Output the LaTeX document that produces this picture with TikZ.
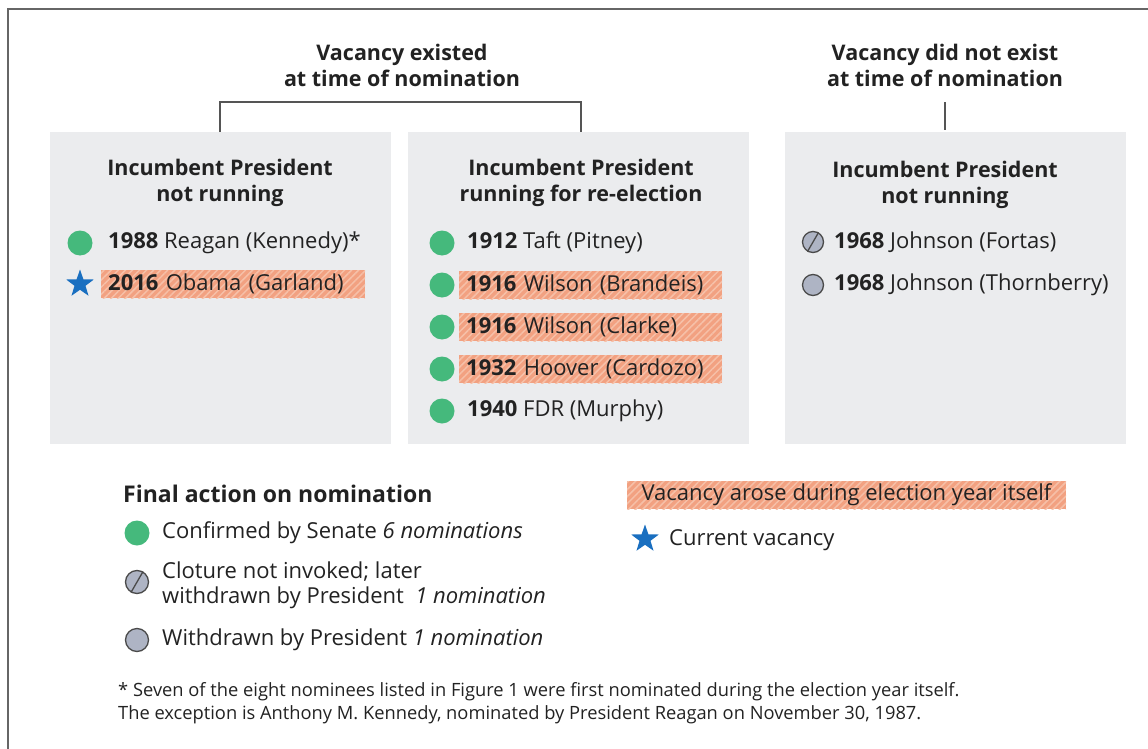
\documentclass[tikz,border=0pt]{standalone}
\usepackage{fontspec}
\setmainfont{Open Sans}
\usetikzlibrary{shapes.geometric,patterns.meta}
\definecolor{boxgray}{HTML}{EBECEE}
\definecolor{grn}{HTML}{45B97C}
\definecolor{strblue}{HTML}{1A6FC0}
\definecolor{salmon}{HTML}{F2A181}
\definecolor{salmonlt}{HTML}{F6C0A8}
\definecolor{iconfill}{HTML}{AEB4C4}
\definecolor{iconline}{HTML}{4A4A4A}
\definecolor{txt}{HTML}{222222}
\definecolor{framecol}{HTML}{666666}
\definecolor{linecol}{HTML}{555555}
\tikzset{
  panel/.style={fill=boxgray, minimum width=341pt, minimum height=312pt, inner sep=0pt},
  head/.style={font=\fontsize{21.5}{26}\selectfont\bfseries, align=center, text=txt, inner sep=0pt},
  rowtext/.style={font=\fontsize{22}{25}\selectfont, anchor=west, text=txt, inner sep=0pt},
  hlrow/.style={rowtext, fill=salmon, postaction={pattern={Lines[angle=45,distance=5pt,line width=1.5pt]}, pattern color=salmonlt},
     inner xsep=7pt, inner ysep=0pt, minimum height=28pt, align=left},
  ok/.style={circle, fill=grn, minimum size=25pt, inner sep=0pt},
  wd/.style={circle, fill=iconfill, draw=iconline, line width=1.3pt, minimum size=21pt, inner sep=0pt},
  slash/.style={iconline, line width=1.3pt},
  curstar/.style={star, star points=5, star point ratio=2.5, fill=strblue, minimum size=29pt, inner sep=0pt},
  conn/.style={linecol, line width=1.3pt},
  foot/.style={font=\fontsize{18.3}{23}\selectfont, anchor=west, text=txt, inner sep=0pt, align=left}
}
\begin{document}
\begin{tikzpicture}[x=1pt,y=-1pt]
\useasboundingbox (0,0) rectangle (1148,749);
\draw[framecol, line width=2pt] (8,749) -- (8,9) -- (1148,9);

% headings
\node[head] (h1) at (402,65) {Vacancy existed\\at time of nomination};
\node[head] (h2) at (945,65) {Vacancy did not exist\\at time of nomination};

% panels
\node[panel] (p1) at (220.5,288) {};
\node[panel] (p2) at (578.5,288) {};
\node[panel] (p3) at (955.5,288) {};

\coordinate (b1) at (220,132);
\coordinate (b2) at (581,132);
\coordinate (b3) at (945,130);
\coordinate (h2b) at (945,102);
\draw[conn] (b1) -- ++(0,-30) -| (b2);
\draw[conn] (b3) -- (h2b);

% panel titles
\node[head] (t1) at (220,183) {Incumbent President\\not running};
\node[head] (t2) at (581,183) {Incumbent President\\running for re-election};
\node[head] (t3) at (945,185) {Incumbent President\\not running};

% panel 1 rows
\node[ok] (i11) at (80,243) {};
\node[rowtext] (r11) at (108,243) {\textbf{1988} Reagan (Kennedy)*};
\node[curstar] (i12) at (80,284) {};
\node[hlrow, text width=250pt] (r12) at (101,284) {\textbf{2016} Obama (Garland)};

% panel 2 rows
\node[ok] (i21) at (442,243) {};
\node[rowtext] (r21) at (467,243) {\textbf{1912} Taft (Pitney)};
\node[ok] (i22) at (442,285) {};
\node[hlrow, text width=249pt] (r22) at (459,285) {\textbf{1916} Wilson (Brandeis)};
\node[ok] (i23) at (442,327) {};
\node[hlrow, text width=249pt] (r23) at (459,327) {\textbf{1916} Wilson (Clarke)};
\node[ok] (i24) at (442,369) {};
\node[hlrow, text width=249pt] (r24) at (459,369) {\textbf{1932} Hoover (Cardozo)};
\node[ok] (i25) at (442,411) {};
\node[rowtext] (r25) at (467,411) {\textbf{1940} FDR (Murphy)};

% panel 3 rows
\node[wd] (i31) at (813,242) {};
\draw[slash] (i31.240) -- (i31.60);
\node[rowtext] (r31) at (834,242) {\textbf{1968} Johnson (Fortas)};
\node[wd] (i32) at (813,285) {};
\node[rowtext] (r32) at (834,285) {\textbf{1968} Johnson (Thornberry)};

% legend left
\node[rowtext, font=\fontsize{23}{26}\selectfont\bfseries] (lt) at (123,494) {Final action on nomination};
\node[ok] (l1) at (137,533) {};
\node[rowtext] (lt1) at (162,533) {Confirmed by Senate \textit{6 nominations}};
\node[wd, minimum size=23pt] (l2) at (137,582) {};
\draw[slash] (l2.240) -- (l2.60);
\node[rowtext, align=left] (lt2) at (162,585) {Cloture not invoked; later\\withdrawn by President\ \ \textit{1 nomination}};
\node[wd, minimum size=23pt] (l3) at (137,640) {};
\node[rowtext] (lt3) at (162,640) {Withdrawn by President \textit{1 nomination}};

% legend right
\node[hlrow, minimum width=439pt, align=center, anchor=center, inner xsep=0pt] (lh) at (846.5,495) {Vacancy arose during election year itself};
\node[curstar] (ls) at (645,539) {};
\node[rowtext] (lst) at (669,540) {Current vacancy};

% footnote
\node[foot] (fn) at (118,703) {* Seven of the eight nominees listed in Figure 1 were first nominated during the election year itself.\\The exception is Anthony M. Kennedy, nominated by President Reagan on November 30, 1987.};
\end{tikzpicture}
\end{document}
